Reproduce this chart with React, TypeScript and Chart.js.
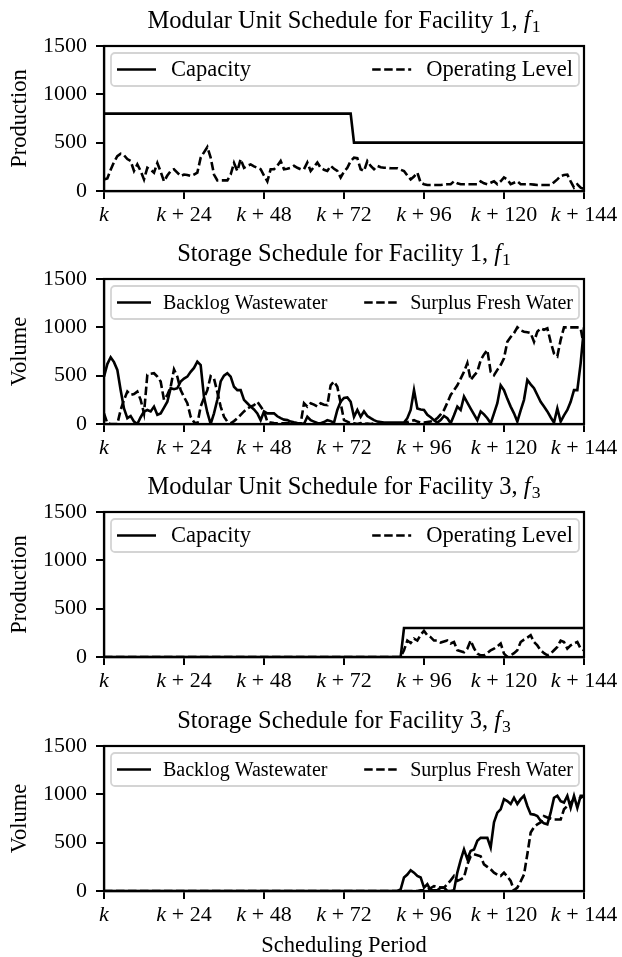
import React, { useEffect, useRef } from 'react';
import { Chart, registerables } from 'chart.js';

Chart.register(...registerables);

const FONT = "'Liberation Serif', 'Times New Roman', serif";

// ---------- data ----------
const periods: number[] = Array.from({ length: 145 }, (_, i) => i);
const xTickValues = [0, 24, 48, 72, 96, 120, 144];
const yTickValues = [0, 500, 1000, 1500];

// Facility 1 capacity (step breakpoints)
const capF1X = [0, 74, 75, 144];
const capF1Y = [800, 800, 500, 500];

const opLevelF1 = [
  120, 130, 220, 300, 360, 385, 370, 330, 310, 207, 275, 207, 120, 240, 220, 190, 290, 200, 100, 160,
  207, 225, 190, 155, 170, 165, 155, 170, 190, 345, 400, 455, 345, 170, 110, 110, 110, 110, 170, 290,
  207, 330, 240, 260, 275, 255, 240, 225, 160, 100, 225, 225, 260, 310, 225, 230, 240, 260, 240, 225,
  225, 295, 207, 250, 295, 240, 220, 207, 260, 230, 207, 140, 200, 240, 310, 345, 340, 225, 207, 310,
  260, 225, 260, 245, 240, 240, 235, 235, 235, 220, 207, 160, 120, 150, 190, 86, 70, 62, 62, 62,
  62, 62, 66, 70, 70, 100, 80, 70, 70, 70, 70, 70, 70, 100, 80, 70, 85, 100, 70, 100,
  140, 120, 70, 85, 100, 70, 70, 70, 70, 66, 62, 62, 62, 62, 62, 90, 120, 155, 165, 170,
  100, 35, 70, 35, 20,
];

const backlogF1 = [
  490, 620, 690, 640, 560, 350, 160, 60, 83, 25, 0, 70, 130, 145, 130, 180, 95, 110, 170, 230,
  370, 360, 370, 440, 470, 490, 540, 580, 645, 610, 280, 120, 0, 110, 250, 440, 500, 525, 490, 385,
  350, 350, 250, 215, 180, 150, 110, 40, 130, 110, 110, 110, 80, 60, 45, 40, 25, 17, 10, 7,
  0, 75, 40, 25, 10, 7, 20, 40, 30, 14, 145, 230, 270, 275, 230, 75, 145, 75, 130, 83,
  60, 40, 25, 20, 14, 14, 14, 14, 14, 14, 14, 60, 145, 350, 160, 150, 145, 95, 70, 40,
  14, 40, 83, 60, 7, 90, 180, 145, 283, 220, 160, 100, 40, 130, 100, 60, 7, 110, 215, 400,
  350, 260, 180, 110, 25, 140, 250, 455, 410, 370, 300, 230, 180, 130, 70, 14, 160, 25, 90, 145,
  230, 350, 350, 630, 1000,
];

const surplusF1 = [
  110, 7, 0, 0, 0, 145, 250, 335, 300, 310, 335, 250, 110, 510, 520, 525, 490, 440, 250, 300,
  385, 565, 490, 350, 280, 215, 75, 20, 0, 180, 270, 350, 495, 470, 330, 180, 75, 25, 7, 30,
  60, 95, 130, 160, 180, 195, 230, 180, 130, 25, 14, 10, 7, 7, 7, 7, 7, 7, 7, 7,
  215, 180, 215, 200, 180, 215, 200, 195, 400, 440, 385, 215, 40, 25, 7, 7, 0, 10, 0, 5,
  0, 5, 0, 5, 0, 5, 0, 5, 0, 5, 7, 20, 30, 40, 25, 14, 14, 20, 25, 40,
  60, 100, 145, 220, 300, 350, 400, 470, 540, 630, 455, 500, 540, 660, 720, 765, 540, 505, 560, 610,
  680, 850, 900, 940, 1000, 970, 955, 950, 940, 850, 955, 990, 975, 990, 850, 730, 700, 870, 1000, 1000,
  1000, 1000, 1000, 990, 800,
];

// Facility 3 capacity (step breakpoints)
const capF3X = [0, 89, 90, 144];
const capF3Y = [0, 0, 300, 300];

const opLevelF3 = [
  0, 0, 0, 0, 0, 0, 0, 0, 0, 0, 0, 0, 0, 0, 0, 0, 0, 0, 0, 0,
  0, 0, 0, 0, 0, 0, 0, 0, 0, 0, 0, 0, 0, 0, 0, 0, 0, 0, 0, 0,
  0, 0, 0, 0, 0, 0, 0, 0, 0, 0, 0, 0, 0, 0, 0, 0, 0, 0, 0, 0,
  0, 0, 0, 0, 0, 0, 0, 0, 0, 0, 0, 0, 0, 0, 0, 0, 0, 0, 0, 0,
  0, 0, 0, 0, 0, 0, 0, 0, 0, 0, 70, 170, 145, 190, 170, 230, 270, 225, 205, 170,
  170, 150, 160, 170, 140, 155, 70, 60, 50, 86, 170, 90, 35, 17, 17, 40, 70, 86, 110, 140,
  35, 0, 17, 40, 70, 155, 180, 200, 225, 155, 120, 70, 40, 17, 35, 70, 105, 170, 155, 86,
  120, 140, 155, 86, 70,
];

const backlogF3 = [
  0, 0, 0, 0, 0, 0, 0, 0, 0, 0, 0, 0, 0, 0, 0, 0, 0, 0, 0, 0,
  0, 0, 0, 0, 0, 0, 0, 0, 0, 0, 0, 0, 0, 0, 0, 0, 0, 0, 0, 0,
  0, 0, 0, 0, 0, 0, 0, 0, 0, 0, 0, 0, 0, 0, 0, 0, 0, 0, 0, 0,
  0, 0, 0, 0, 0, 0, 0, 0, 0, 0, 0, 0, 0, 0, 0, 0, 0, 0, 0, 0,
  0, 0, 0, 0, 0, 0, 0, 0, 0, 17, 140, 170, 215, 190, 155, 140, 35, 70, 7, 7,
  7, 35, 35, 0, 0, 7, 190, 320, 430, 330, 415, 430, 520, 550, 550, 550, 450, 710, 810, 845,
  950, 930, 900, 965, 900, 950, 985, 880, 795, 790, 775, 725, 700, 690, 810, 965, 985, 930, 915, 985,
  860, 985, 860, 985, 985,
];

const surplusF3 = [
  0, 0, 0, 0, 0, 0, 0, 0, 0, 0, 0, 0, 0, 0, 0, 0, 0, 0, 0, 0,
  0, 0, 0, 0, 0, 0, 0, 0, 0, 0, 0, 0, 0, 0, 0, 0, 0, 0, 0, 0,
  0, 0, 0, 0, 0, 0, 0, 0, 0, 0, 0, 0, 0, 0, 0, 0, 0, 0, 0, 0,
  0, 0, 0, 0, 0, 0, 0, 0, 0, 0, 0, 0, 0, 0, 0, 0, 0, 0, 0, 0,
  0, 0, 0, 0, 0, 0, 0, 0, 0, 0, 0, 0, 0, 0, 0, 7, 10, 17, 30, 50,
  40, 35, 35, 70, 110, 155, 105, 120, 140, 275, 360, 380, 370, 360, 275, 250, 225, 190, 170, 155,
  190, 150, 105, 7, 35, 100, 170, 380, 605, 660, 690, 710, 775, 760, 750, 740, 740, 740, 845, 880,
  915, 950, 955, 965, 985,
];

// ---------- helpers ----------
const DASH = [8.5, 3.5];
const LW = 2.6;

function series(xs: number[], ys: number[]) {
  return xs.map((x, i) => ({ x, y: ys[i] }));
}

function tickText(v: number) {
  return v === 0 ? '' : `+ ${v}`;
}

const decorPlugin = {
  id: 'decor',
  afterDraw(chart: any, _args: any, opts: any) {
    const { ctx, chartArea: ca } = chart;
    ctx.save();
    // frame
    ctx.strokeStyle = '#000';
    ctx.lineWidth = 2.2;
    ctx.setLineDash([]);
    ctx.strokeRect(ca.left, ca.top, ca.right - ca.left, ca.bottom - ca.top);

    // x tick labels with italic k
    const xs = chart.scales.x;
    const fs = opts.tickFont;
    ctx.fillStyle = '#000';
    ctx.textBaseline = 'alphabetic';
    ctx.textAlign = 'left';
    xs.ticks.forEach((t: any) => {
      const px = xs.getPixelForValue(t.value);
      ctx.font = `italic ${fs}px ${FONT}`;
      const wk = ctx.measureText('k').width;
      const rest = tickText(t.value);
      let total = wk;
      let wPlus = 0, wNum = 0;
      const sp = 0.26 * fs;
      ctx.font = `${fs}px ${FONT}`;
      if (rest) {
        wPlus = ctx.measureText('+').width;
        wNum = ctx.measureText(String(t.value)).width;
        total += sp + wPlus + sp + wNum;
      }
      let x = px - total / 2;
      const y = ca.bottom + opts.tickBaseline;
      ctx.font = `italic ${fs}px ${FONT}`;
      ctx.fillText('k', x, y);
      x += wk;
      if (rest) {
        ctx.font = `${fs}px ${FONT}`;
        x += sp;
        ctx.fillText('+', x, y);
        x += wPlus + sp;
        ctx.fillText(String(t.value), x, y);
      }
    });

    // title with italic symbol and subscript
    const tf = opts.titleFont;
    ctx.font = `${tf}px ${FONT}`;
    const w1 = ctx.measureText(opts.title).width;
    ctx.font = `italic ${tf}px ${FONT}`;
    const w2 = ctx.measureText(opts.sym).width;
    const sf = tf * 0.72;
    ctx.font = `${sf}px ${FONT}`;
    const w3 = ctx.measureText(opts.sub).width;
    const cx = (ca.left + ca.right) / 2;
    let tx = cx - (w1 + w2 + 1 + w3) / 2;
    const ty = ca.top - opts.titleOffset;
    ctx.font = `${tf}px ${FONT}`;
    ctx.fillText(opts.title, tx, ty);
    tx += w1;
    ctx.font = `italic ${tf}px ${FONT}`;
    ctx.fillText(opts.sym, tx, ty);
    tx += w2 + 1;
    ctx.font = `${sf}px ${FONT}`;
    ctx.fillText(opts.sub, tx, ty + tf * 0.18);

    // legend inside the axes
    const ds = chart.data.datasets;
    const lf = opts.legendFont;
    const bx = ca.left + 7;
    const by = ca.top + 7;
    const bw = ca.right - 5 - bx;
    const bh = 33;
    ctx.beginPath();
    ctx.roundRect(bx, by, bw, bh, 4);
    ctx.fillStyle = 'rgba(255,255,255,0.8)';
    ctx.fill();
    ctx.strokeStyle = '#d4d4d4';
    ctx.lineWidth = 1.8;
    ctx.stroke();
    const cy = by + bh / 2;
    ctx.font = `${lf}px ${FONT}`;
    ctx.textBaseline = 'middle';
    const drawHandle = (x0: number, x1: number, dash: number[]) => {
      ctx.beginPath();
      ctx.setLineDash(dash);
      ctx.strokeStyle = '#000';
      ctx.lineWidth = LW;
      ctx.moveTo(x0, cy);
      ctx.lineTo(x1, cy);
      ctx.stroke();
      ctx.setLineDash([]);
    };
    const h = opts.handle;
    const g = opts.gap;
    // first entry, left aligned
    drawHandle(bx + 6, bx + 6 + h, ds[0].borderDash || []);
    ctx.fillStyle = '#000';
    ctx.fillText(ds[0].label, bx + 6 + h + g, cy + 1);
    // second entry, right aligned
    const w = ctx.measureText(ds[1].label).width;
    const textX = bx + bw - 6 - w;
    drawHandle(textX - g - h, textX - g, ds[1].borderDash || []);
    ctx.fillText(ds[1].label, textX, cy + 1);
    ctx.restore();
  },
};

type PanelProps = {
  top: number;
  height: number;
  title: string;
  sym: string;
  sub: string;
  yLabel: string;
  xLabel?: string;
  datasets: any[];
  legendFont: number;
  handle: number;
  gap: number;
};

function Panel(p: PanelProps) {
  const ref = useRef<HTMLCanvasElement>(null);
  useEffect(() => {
    const axisCommon = {
      grid: { drawOnChartArea: false, drawTicks: true, tickLength: 8, color: '#000', lineWidth: 2 },
      border: { display: true, color: '#000', width: 2.2 },
    };
    const chart = new Chart(ref.current as HTMLCanvasElement, {
      type: 'line',
      data: { datasets: p.datasets },
      options: {
        animation: false,
        responsive: false,
        maintainAspectRatio: false,
        devicePixelRatio: 1,
        layout: { padding: { top: 46, right: 38, left: 0, bottom: 0 } },
        elements: { point: { radius: 0 }, line: { tension: 0 } },
        plugins: {
          legend: { display: false },
          title: { display: false },
          tooltip: { enabled: false },
          decor: {
            title: p.title,
            sym: p.sym,
            sub: p.sub,
            titleFont: 24.5,
            titleOffset: 18,
            tickFont: 22,
            tickBaseline: 30,
            legendFont: p.legendFont,
            handle: p.handle,
            gap: p.gap,
          },
        } as any,
        scales: {
          x: {
            type: 'linear',
            min: 0,
            max: 144,
            afterBuildTicks: (s: any) => {
              s.ticks = xTickValues.map((v) => ({ value: v }));
            },
            ticks: { display: false },
            ...axisCommon,
            title: p.xLabel
              ? {
                  display: true,
                  text: p.xLabel,
                  color: '#000',
                  font: { family: FONT, size: 22.5, lineHeight: 1.0 },
                  padding: { top: 0, bottom: 0 },
                }
              : { display: false },
            afterFit: (s: any) => {
              s.height = p.height - 46 - 145;
            },
          },
          y: {
            type: 'linear',
            min: 0,
            max: 1500,
            afterBuildTicks: (s: any) => {
              s.ticks = yTickValues.map((v) => ({ value: v }));
            },
            ticks: {
              color: '#000',
              font: { family: FONT, size: 22 },
              padding: 9,
              callback: (v: any) => String(v),
            },
            ...axisCommon,
            title: {
              display: true,
              text: p.yLabel,
              color: '#000',
              font: { family: FONT, size: 22.5 },
              padding: { top: 7, bottom: 0 },
            },
            afterFit: (s: any) => {
              s.width = 104;
            },
          },
        } as any,
      },
      plugins: [decorPlugin as any],
    });
    return () => chart.destroy();
  }, []);
  return (
    <canvas
      ref={ref}
      width={622}
      height={p.height}
      style={{ position: 'absolute', left: 0, top: p.top, width: 622, height: p.height, display: 'block' }}
    />
  );
}

function line(label: string, data: any[], dashed: boolean) {
  return {
    label,
    data,
    borderColor: '#000',
    backgroundColor: '#000',
    borderWidth: LW,
    borderDash: dashed ? DASH : [],
    pointRadius: 0,
    fill: false,
  };
}

export default function App() {
  const p1 = [
    line('Capacity', series(capF1X, capF1Y), false),
    line('Operating Level', series(periods, opLevelF1), true),
  ];
  const p2 = [
    line('Backlog Wastewater', series(periods, backlogF1), false),
    line('Surplus Fresh Water', series(periods, surplusF1), true),
  ];
  const p3 = [
    line('Capacity', series(capF3X, capF3Y), false),
    line('Operating Level', series(periods, opLevelF3), true),
  ];
  const p4 = [
    line('Backlog Wastewater', series(periods, backlogF3), false),
    line('Surplus Fresh Water', series(periods, surplusF3), true),
  ];
  return (
    <div style={{ position: 'absolute', left: 0, top: 0, width: 622, height: 957, overflow: 'hidden', background: '#fff' }}>
      <Panel top={0} height={233} title="Modular Unit Schedule for Facility 1, " sym="f" sub="1" yLabel="Production" datasets={p1} legendFont={22.5} handle={39} gap={15} />
      <Panel top={233} height={233} title="Storage Schedule for Facility 1, " sym="f" sub="1" yLabel="Volume" datasets={p2} legendFont={20} handle={34} gap={12} />
      <Panel top={466} height={233} title="Modular Unit Schedule for Facility 3, " sym="f" sub="3" yLabel="Production" datasets={p3} legendFont={22.5} handle={39} gap={15} />
      <Panel top={700} height={257} title="Storage Schedule for Facility 3, " sym="f" sub="3" yLabel="Volume" xLabel="Scheduling Period" datasets={p4} legendFont={20} handle={34} gap={12} />
    </div>
  );
}
